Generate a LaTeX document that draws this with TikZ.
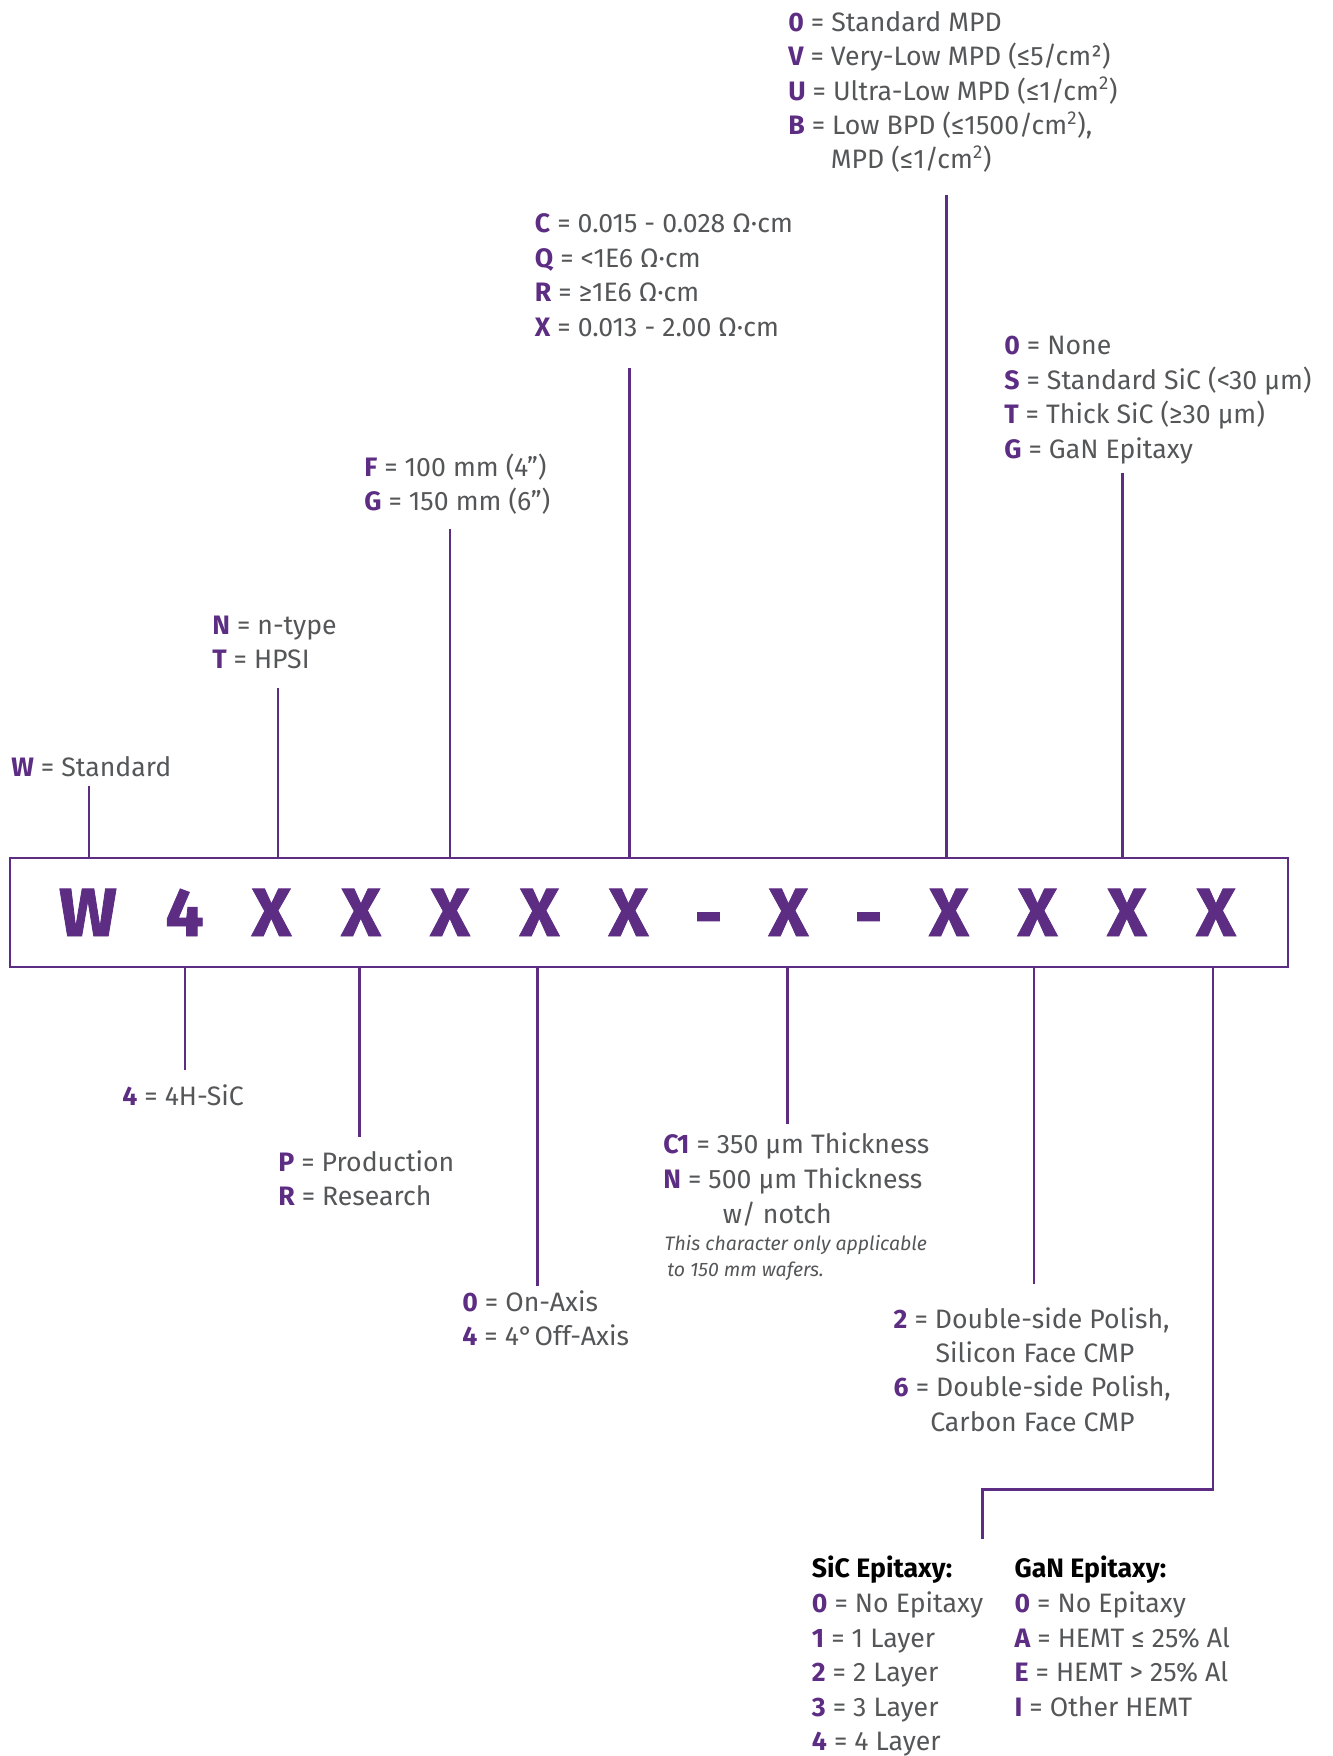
\documentclass[tikz,border=0pt]{standalone}
\usepackage{fontspec}
\setmainfont{Fira Sans}
\newfontfamily\bigfont{Fira Sans}[BoldFeatures={FakeBold=1.2}]
\definecolor{pur}{RGB}{92,45,131}
\definecolor{txt}{RGB}{85,86,88}
\newcommand\kk[1]{\textcolor{pur}{\bfseries #1}}
\tikzset{
  x=0.75pt,y=-0.75pt,
  lbl/.style={anchor=base west, inner sep=0, text=txt, font=\fontsize{20}{24}\selectfont},
  hd/.style={anchor=base west, inner sep=0, text=black, font=\fontsize{20}{24}\selectfont\bfseries},
  note/.style={anchor=base west, inner sep=0, text=txt, font=\fontsize{14.6}{18}\selectfont\itshape},
  conn/.style={draw=pur, line width=1.9pt},
  bigc/.style={anchor=base, inner sep=0, text=pur, font=\bigfont\fontsize{51}{60}\selectfont\bfseries},
  codebox/.style={draw=pur, line width=2pt, minimum width=958.5pt, minimum height=81.75pt, inner sep=0}
}
\begin{document}
\begin{tikzpicture}
\useasboundingbox (0,0) rectangle (1333,1756);
% main code box
\node[codebox] (box) at (649,912.5) {};
\node[bigc] (c1) at (88,936) {W};
\node[bigc] (c2) at (184.5,936) {4};
\node[bigc] (c3) at (271.5,936) {X};
\node[bigc] (c4) at (361,936) {X};
\node[bigc] (c5) at (450,936) {X};
\node[bigc] (c6) at (539.5,936) {X};
\node[bigc] (c7) at (628.5,936) {X};
\node[bigc] (d1) at (708.5,938) {-};
\node[bigc] (c8) at (788.5,936) {X};
\node[bigc] (d2) at (868.5,938) {-};
\node[bigc] (c9) at (949,936) {X};
\node[bigc] (c10) at (1037.5,936) {X};
\node[bigc] (c11) at (1127,936) {X};
\node[bigc] (c12) at (1216,936) {X};

% labels above
\node[lbl] (mpd0) at (788,31.5) {\kk{0} = Standard MPD};
\node[lbl] (mpdV) at (788,65.5) {\kk{V} = Very-Low MPD (≤5/cm²)};
\node[lbl] (mpdU) at (788,100) {\kk{U} = Ultra-Low MPD (≤1/cm\textsuperscript{2})};
\node[lbl] (mpdB) at (788,134.5) {\kk{B} = Low BPD (≤1500/cm\textsuperscript{2}),};
\node[lbl] (mpdB2) at (830.6,168.5) {MPD (≤1/cm\textsuperscript{2})};

\node[lbl] (resC) at (534.6,232.5) {\kk{C} = 0.015 - 0.028 Ω·cm};
\node[lbl] (resQ) at (534.6,267) {\kk{Q} = <1E6 Ω·cm};
\node[lbl] (resR) at (534.6,301.5) {\kk{R} = ≥1E6 Ω·cm};
\node[lbl] (resX) at (534.6,336) {\kk{X} = 0.013 - 2.00 Ω·cm};

\node[lbl] (ep0) at (1004,354.5) {\kk{0} = None};
\node[lbl] (epS) at (1004,389) {\kk{S} = Standard SiC (<30 µm)};
\node[lbl] (epT) at (1004,423.5) {\kk{T} = Thick SiC (≥30 µm)};
\node[lbl] (epG) at (1004,458) {\kk{G} = GaN Epitaxy};

\node[lbl] (dF) at (364,476) {\kk{F} = 100 mm (4”)};
\node[lbl] (dG) at (364,510.5) {\kk{G} = 150 mm (6”)};

\node[lbl] (tN) at (212,634) {\kk{N} = n-type};
\node[lbl] (tT) at (212,668) {\kk{T} = HPSI};

\node[lbl] (wS) at (11,776) {\kk{W} = Standard};

% labels below
\node[lbl] (p4) at (122,1105) {\kk{4} = 4H-SiC};
\node[lbl] (gP) at (278,1171.7) {\kk{P} = Production};
\node[lbl] (gR) at (278,1205.7) {\kk{R} = Research};
\node[lbl] (o0) at (462,1311) {\kk{0} = On-Axis};
\node[lbl] (o4) at (462,1345.7) {\kk{4} = 4°\kern-0.2em\ Off-Axis};

\node[lbl] (thC) at (663,1153.3) {\kk{C1} = 350 µm Thickness};
\node[lbl] (thN) at (663,1188.7) {\kk{N} = 500 µm Thickness};
\node[lbl] (thN2) at (722.6,1223.3) {w/ notch};
\node[note] (nt1) at (664.4,1250) {This character only applicable};
\node[note] (nt2) at (667,1276.7) {to 150 mm wafers.};

\node[lbl] (po2) at (893.4,1328.3) {\kk{2} = Double-side Polish,};
\node[lbl] (po2b) at (935.4,1362.3) {Silicon Face CMP};
\node[lbl] (po6) at (893.4,1396.7) {\kk{6} = Double-side Polish,};
\node[lbl] (po6b) at (930,1431.7) {Carbon Face CMP};

\node[hd] (sicH) at (811.6,1577.3) {SiC Epitaxy:};
\node[lbl] (sic0) at (811.6,1612.3) {\kk{0} = No Epitaxy};
\node[lbl] (sic1) at (811.6,1647.3) {\kk{1} = 1 Layer};
\node[lbl] (sic2) at (811.6,1681.7) {\kk{2} = 2 Layer};
\node[lbl] (sic3) at (811.6,1716) {\kk{3} = 3 Layer};
\node[lbl] (sic4) at (811.6,1750.7) {\kk{4} = 4 Layer};

\node[hd] (ganH) at (1014.3,1577.3) {GaN Epitaxy:};
\node[lbl] (gan0) at (1014.3,1612.3) {\kk{0} = No Epitaxy};
\node[lbl] (ganA) at (1014.3,1647.3) {\kk{A} = HEMT ≤ 25\% Al};
\node[lbl] (ganE) at (1014.3,1681.7) {\kk{E} = HEMT > 25\% Al};
\node[lbl] (ganI) at (1014.3,1716) {\kk{I} = Other HEMT};

% connector ends
\coordinate (a1) at (89,786);
\coordinate (a2) at (278,687.5);
\coordinate (a3) at (450,528.7);
\coordinate (a4) at (629.5,367.7);
\coordinate (a5) at (946.5,195);
\coordinate (a6) at (1122.5,473);
\coordinate (b1) at (185,1070);
\coordinate (b2) at (359.5,1136.7);
\coordinate (b3) at (537.5,1286);
\coordinate (b4) at (787.5,1123.5);
\coordinate (b5) at (1034,1283.5);
\coordinate (b6) at (1213,1489.5);
\coordinate (b6e) at (982.4,1539.3);

\foreach \p in {a1,a2,a3,a4,a5,a6}
  \draw[conn] (\p |- box.north) -- (\p);
\foreach \p in {b1,b2,b3,b4,b5}
  \draw[conn] (\p |- box.south) -- (\p);
\draw[conn] (b6 |- box.south) -- (b6) -| (b6e);
\end{tikzpicture}
\end{document}
